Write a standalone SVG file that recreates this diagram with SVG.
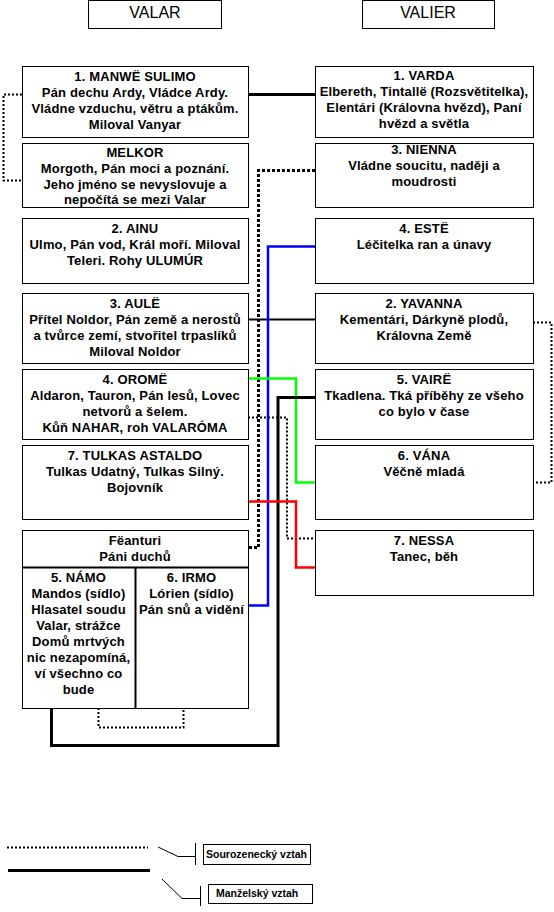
<svg xmlns="http://www.w3.org/2000/svg" width="554" height="912" viewBox="0 0 554 912">
<style>
.box{fill:#fff;stroke:#000;stroke-width:1}
.t{font-family:"Liberation Sans",Arial,sans-serif;font-weight:bold;font-size:13px;letter-spacing:0.15px;text-anchor:middle;fill:#000}
.h{font-family:"Liberation Sans",Arial,sans-serif;font-size:16px;text-anchor:middle;fill:#000}
.lg{font-family:"Liberation Sans",Arial,sans-serif;font-weight:bold;font-size:10.5px;fill:#000}
.c{fill:none;stroke-linejoin:miter}
.dot{stroke:#000;stroke-width:2;stroke-dasharray:2 2}
.dotb{stroke:#000;stroke-width:3;stroke-dasharray:3 2}
.marr{stroke:#000;stroke-width:3}
.thin{stroke:#000;stroke-width:2}
</style>
<rect width="554" height="912" fill="#fff"/>

<g id="valar-header"><rect class="box" x="88.5" y="0.5" width="133" height="28"/><text class="h" x="155" y="18">VALAR</text></g>
<g id="valier-header"><rect class="box" x="362.5" y="0.5" width="132" height="28"/><text class="h" x="428" y="18">VALIER</text></g>

<g id="connectors" class="c">
  <path class="marr" d="M248 94.5H315"/>
  <path class="dot" d="M22 94.5H3.5V180.5H22"/>
  <path class="dotb" d="M315 170.5H258.5V547.5H248"/>
  <path class="thin" d="M245 319.5H321"/>
  <path stroke="#0000ff" stroke-width="2.5" d="M315 246.5H268V605.5H248"/>
  <path stroke="#00ff00" stroke-width="2.5" d="M248 378.5H296V482.5H315"/>
  <path class="marr" d="M315 397.5H278V745.5H51.5V708"/>
  <path class="dot" d="M248 417.5H287V538.5H315"/>
  <path stroke="#ff0000" stroke-width="2.5" d="M248 501.5H296V567.5H315"/>
  <path class="dot" d="M533 322.5H551.5V482.5H533"/>
  <path class="dot" d="M98.5 708V727.5H183.5V708"/>
</g>

<g id="manwe"><rect class="box" x="22.5" y="66.5" width="226" height="71"/>
<text class="t" x="135" y="81">1. MANWË SULIMO</text>
<text class="t" x="135" y="97">Pán dechu Ardy, Vládce Ardy.</text>
<text class="t" x="135" y="113">Vládne vzduchu, větru a ptákům.</text>
<text class="t" x="135" y="129">Miloval Vanyar</text></g>

<g id="melkor"><rect class="box" x="22.5" y="143.5" width="226" height="64"/>
<text class="t" x="135" y="157">MELKOR</text>
<text class="t" x="135" y="173">Morgoth, Pán moci a poznání.</text>
<text class="t" x="135" y="189">Jeho jméno se nevyslovuje a</text>
<text class="t" x="135" y="204">nepočítá se mezi Valar</text></g>

<g id="ainu"><rect class="box" x="22.5" y="218.5" width="226" height="65"/>
<text class="t" x="135" y="233">2. AINU</text>
<text class="t" x="135" y="249">Ulmo, Pán vod, Král moří. Miloval</text>
<text class="t" x="135" y="265">Teleri. Rohy ULUMÚR</text></g>

<g id="aule"><rect class="box" x="22.5" y="293.5" width="226" height="70"/>
<text class="t" x="135" y="308">3. AULË</text>
<text class="t" x="135" y="324">Přítel Noldor, Pán země a nerostů</text>
<text class="t" x="135" y="340">a tvůrce zemí, stvořitel trpaslíků</text>
<text class="t" x="135" y="356">Miloval Noldor</text></g>

<g id="orome"><rect class="box" x="22.5" y="369.5" width="226" height="70"/>
<text class="t" x="135" y="384">4. OROMË</text>
<text class="t" x="135" y="400">Aldaron, Tauron, Pán lesů, Lovec</text>
<text class="t" x="135" y="416">netvorů a šelem.</text>
<text class="t" x="135" y="432">Kůň NAHAR, roh VALARÓMA</text></g>

<g id="tulkas"><rect class="box" x="22.5" y="445.5" width="226" height="74"/>
<text class="t" x="135" y="460">7. TULKAS ASTALDO</text>
<text class="t" x="135" y="476">Tulkas Udatný, Tulkas Silný.</text>
<text class="t" x="135" y="492">Bojovník</text></g>

<g id="feanturi"><rect class="box" x="22.5" y="530.5" width="226" height="178"/>
<path d="M22 567.5H249M135.5 567V709" stroke="#000" stroke-width="2"/>
<text class="t" x="135" y="545">Fëanturi</text>
<text class="t" x="135" y="561">Páni duchů</text></g>

<g id="namo">
<text class="t" x="78.5" y="582">5. NÁMO</text>
<text class="t" x="78.5" y="598">Mandos (sídlo)</text>
<text class="t" x="78.5" y="614">Hlasatel soudu</text>
<text class="t" x="78.5" y="630">Valar, strážce</text>
<text class="t" x="78.5" y="646">Domů mrtvých</text>
<text class="t" x="78.5" y="662">nic nezapomíná,</text>
<text class="t" x="78.5" y="678">ví všechno co</text>
<text class="t" x="78.5" y="694">bude</text></g>

<g id="irmo">
<text class="t" x="191.5" y="582">6. IRMO</text>
<text class="t" x="191.5" y="598">Lórien (sídlo)</text>
<text class="t" x="191.5" y="614">Pán snů a vidění</text></g>

<g id="varda"><rect class="box" x="315.5" y="66.5" width="218" height="71"/>
<text class="t" x="424" y="80">1. VARDA</text>
<text class="t" x="424" y="96">Elbereth, Tintallë (Rozsvětitelka),</text>
<text class="t" x="424" y="112">Elentári (Královna hvězd), Paní</text>
<text class="t" x="424" y="128">hvězd a světla</text></g>

<g id="nienna"><rect class="box" x="315.5" y="143.5" width="218" height="64"/>
<text class="t" x="424" y="154">3. NIENNA</text>
<text class="t" x="424" y="170">Vládne soucitu, naději a</text>
<text class="t" x="424" y="186">moudrosti</text></g>

<g id="este"><rect class="box" x="315.5" y="218.5" width="218" height="65"/>
<text class="t" x="424" y="233">4. ESTË</text>
<text class="t" x="424" y="249">Léčitelka ran a únavy</text></g>

<g id="yavanna"><rect class="box" x="315.5" y="293.5" width="218" height="70"/>
<text class="t" x="424" y="308">2. YAVANNA</text>
<text class="t" x="424" y="324">Kementári, Dárkyně plodů,</text>
<text class="t" x="424" y="340">Královna Země</text></g>

<g id="vaire"><rect class="box" x="315.5" y="369.5" width="218" height="70"/>
<text class="t" x="424" y="384">5. VAIRË</text>
<text class="t" x="424" y="400">Tkadlena. Tká příběhy ze všeho</text>
<text class="t" x="424" y="416">co bylo v čase</text></g>

<g id="vana"><rect class="box" x="315.5" y="445.5" width="218" height="74"/>
<text class="t" x="424" y="460">6. VÁNA</text>
<text class="t" x="424" y="476">Věčně mladá</text></g>

<g id="nessa"><rect class="box" x="315.5" y="530.5" width="218" height="65"/>
<text class="t" x="424" y="545">7. NESSA</text>
<text class="t" x="424" y="561">Tanec, běh</text></g>

<g id="legend">
<path class="c dot" d="M7 847.5H148"/>
<path class="c marr" d="M8 870.5H150"/>
<path class="c" stroke="#000" stroke-width="1" d="M158 847L178 856.5H195.5M195.5 843V865M162 879L182 898.5H200.5M200.5 886V906"/>
<rect class="box" x="203.5" y="844.5" width="107" height="20"/>
<text class="lg" x="206" y="858">Sourozenecký vztah</text>
<rect class="box" x="208.5" y="884.5" width="104" height="19"/>
<text class="lg" x="216" y="897">Manželský vztah</text>
</g>
</svg>
